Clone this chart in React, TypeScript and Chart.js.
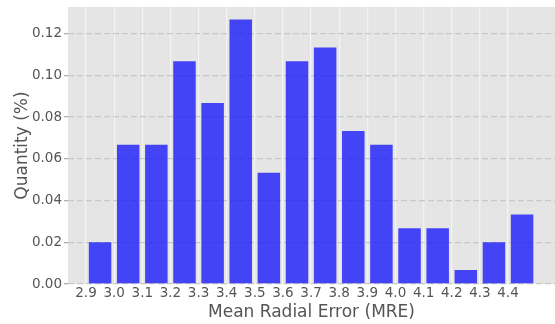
import React, { useEffect, useRef } from "react";
import { Chart, registerables } from "chart.js";

Chart.register(...registerables);

// Bin left edges (also the x tick labels)
const mreBins: number[] = [2.9, 3.0, 3.1, 3.2, 3.3, 3.4, 3.5, 3.6, 3.7, 3.8, 3.9, 4.0, 4.1, 4.2, 4.3, 4.4];
// Quantity (%) per bin
const quantities: number[] = [0.02, 0.0667, 0.0667, 0.1067, 0.0867, 0.1267, 0.0533, 0.1067, 0.1133, 0.0733, 0.0667, 0.0267, 0.0267, 0.0067, 0.02, 0.0333];
const yTickValues: number[] = [0, 0.02, 0.04, 0.06, 0.08, 0.1, 0.12];
const binWidth = 0.1;
const xMin = 2.836;
const xMax = 4.567;
const yMin = 0;
const yMax = 0.1327;

const FONT = "'DejaVu Sans', sans-serif";
const TEXT = "#555555";

const bgPlugin = {
  id: "plotBg",
  beforeDraw(chart: any) {
    const { ctx, chartArea } = chart;
    ctx.save();
    ctx.fillStyle = "#e5e5e5";
    ctx.fillRect(chartArea.left, chartArea.top, chartArea.right - chartArea.left, chartArea.bottom - chartArea.top);
    ctx.restore();
  },
};

export default function App() {
  const ref = useRef<HTMLCanvasElement | null>(null);
  useEffect(() => {
    if (!ref.current) return;
    const data = mreBins.map((b, i) => ({ x: b + binWidth / 2, y: quantities[i] }));
    const chart = new Chart(ref.current, {
      type: "bar",
      data: {
        datasets: [
          {
            data,
            backgroundColor: "rgba(0,0,255,0.7)",
            borderWidth: 0,
            barPercentage: 0.8,
            categoryPercentage: 1,
          } as any,
        ],
      },
      plugins: [bgPlugin],
      options: {
        animation: false,
        responsive: false,
        maintainAspectRatio: false,
        layout: { padding: { top: 7, right: 0, left: 0, bottom: 0 } },
        plugins: { legend: { display: false }, tooltip: { enabled: false } },
        scales: {
          x: {
            type: "linear",
            min: xMin,
            max: xMax,
            offset: false,
            afterBuildTicks: (scale: any) => {
              scale.ticks = mreBins.map((v) => ({ value: v }));
            },
            afterFit: (scale: any) => {
              scale.height = 40;
              scale.paddingLeft = 0;
              scale.paddingRight = 0;
            },
            ticks: {
              color: TEXT,
              font: { family: FONT, size: 13.5 },
              padding: 1,
              maxRotation: 0,
              autoSkip: false,
              callback: (v: any) => Number(v).toFixed(1),
            },
            grid: {
              offset: false,
              color: "#f4f4f4",
              lineWidth: 1.2,
              drawTicks: false,
            },
            border: { display: false },
            title: {
              display: true,
              text: "Mean Radial Error (MRE)",
              color: TEXT,
              font: { family: FONT, size: 17 },
              padding: { top: 0, bottom: 1.5 },
            },
          },
          y: {
            type: "linear",
            min: yMin,
            max: yMax,
            afterBuildTicks: (scale: any) => {
              scale.ticks = yTickValues.map((v) => ({ value: v }));
            },
            afterFit: (scale: any) => {
              scale.width = 68;
              scale.paddingTop = 0;
              scale.paddingBottom = 0;
            },
            ticks: {
              color: TEXT,
              font: { family: FONT, size: 13.5 },
              padding: 2,
              callback: (v: any) => Number(v).toFixed(2),
            },
            grid: {
              color: "#c6c9c6",
              lineWidth: 1.3,
              tickLength: 4,
              tickColor: "#b0b0b0",
              tickBorderDash: [],
            } as any,
            border: { display: false, dash: [6, 3] },
            title: {
              display: true,
              text: "Quantity (%)",
              color: TEXT,
              font: { family: FONT, size: 17 },
              padding: { top: 12, bottom: 0 },
            },
          },
        },
      } as any,
    });
    return () => chart.destroy();
  }, []);
  return (
    <div style={{ position: "fixed", left: 0, top: 0, width: 555, height: 324, background: "#ffffff" }}>
      <canvas ref={ref} width={555} height={324} style={{ display: "block", width: 555, height: 324 }} />
    </div>
  );
}
